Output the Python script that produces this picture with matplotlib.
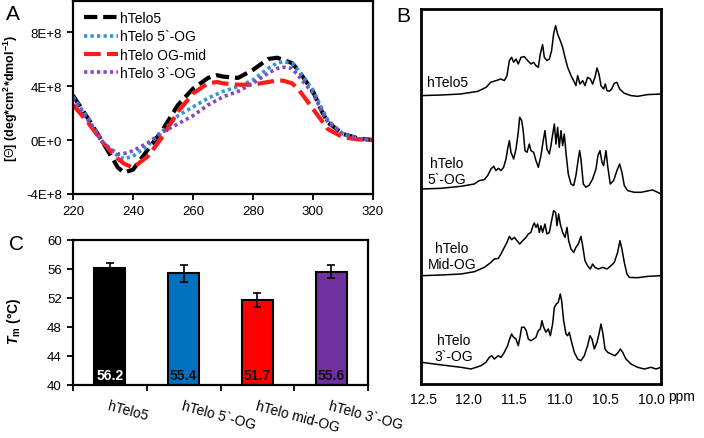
import numpy as np
import matplotlib
matplotlib.use("Agg")
import matplotlib.pyplot as plt
import matplotlib.transforms as mtransforms
from matplotlib import rcParams

rcParams.update({'font.family': 'Liberation Sans', 'font.size': 9.5,
                 'mathtext.fontset': 'custom',
                 'mathtext.rm': 'Liberation Sans',
                 'mathtext.it': 'Liberation Sans:italic',
                 'mathtext.bf': 'Liberation Sans:bold',
                 'axes.linewidth': 1.6})
try:
    rcParams['mathtext.bfit'] = 'Liberation Sans:bold:italic'
except KeyError:
    pass

# ---- A: CD spectra (wavelength nm, ellipticity in 1e8 units) ----
wl = [220, 225, 230, 235, 237, 240, 245, 250, 255, 260, 265, 268, 270, 275, 280,
      285, 288, 290, 293, 295, 300, 303, 305, 310, 315, 320]
cd_htelo5 = [3.3, 1.6, -0.2, -2.05, -2.4, -2.2, -0.7, 0.8, 2.6, 3.8, 4.6, 4.8, 4.7, 4.6, 5.2,
             6.0, 6.1, 5.95, 5.7, 5.2, 3.6, 2.1, 1.3, 0.45, 0.12, 0.0]
cd_5og = [3.2, 1.6, -0.2, -1.2, -1.4, -1.2, -0.4, 0.7, 1.8, 2.45, 3.1, 3.4, 3.6, 3.95, 4.45,
          5.3, 5.7, 5.8, 5.7, 5.2, 3.7, 2.3, 1.45, 0.45, 0.1, 0.0]
cd_mid = [2.6, 1.3, -0.2, -1.4, -1.75, -2.05, -1.2, 0.3, 2.1, 3.45, 4.2, 4.3, 4.2, 4.1, 4.1,
          4.3, 4.4, 4.4, 4.2, 3.8, 2.3, 1.4, 0.8, 0.2, 0.05, 0.0]
cd_3og = [3.1, 1.45, -0.2, -1.05, -1.0, -0.8, -0.2, 0.6, 1.2, 1.8, 2.6, 2.95, 3.2, 3.6, 4.2,
          4.95, 5.3, 5.4, 5.3, 4.8, 3.45, 2.1, 1.3, 0.45, 0.1, 0.0]
cd_labels = ['hTelo5', 'hTelo 5`-OG', 'hTelo OG-mid', 'hTelo 3`-OG']

# ---- C: melting temperatures ----
tm_names = ['hTelo5', 'hTelo 5`-OG', 'hTelo mid-OG', 'hTelo 3`-OG']
tm_vals = [56.2, 55.4, 51.7, 55.6]
tm_err = [0.6, 1.2, 0.95, 0.9]
tm_colors = ['#000000', '#0070C0', '#FF0000', '#7030A0']
tm_textcol = ['white', '#111111', '#111111', '#111111']

# ---- B: imino proton NMR spectra (ppm, intensity) ----
nmr1_ppm = [12.52, 12.30, 12.09, 11.90, 11.81, 11.76, 11.70, 11.65, 11.61, 11.581, 11.555, 11.53,
            11.508, 11.482, 11.457, 11.427, 11.391, 11.354, 11.318, 11.288, 11.263, 11.237, 11.215,
            11.19, 11.171, 11.142, 11.116, 11.091, 11.069, 11.047, 11.025, 10.996, 10.97, 10.944,
            10.915, 10.878, 10.849, 10.824, 10.805, 10.78, 10.75, 10.725, 10.696, 10.666, 10.641,
            10.615, 10.593, 10.571, 10.549, 10.52, 10.502, 10.483, 10.458, 10.432, 10.403, 10.374,
            10.344, 10.293, 10.22, 10.147, 10.037, 9.89]
nmr1_int = [0.7, 1.3, 2.3, 5.0, 9.0, 14.0, 15.7, 17.3, 15.7, 20.7, 35.7, 39, 34, 37.3, 32.3, 39,
            39.7, 35.7, 32.3, 34, 30.7, 29, 42.3, 51.7, 39, 35.7, 37.3, 45.7, 62.3, 70.7, 62.3,
            55.7, 49, 39, 29, 20.7, 15.7, 10.7, 20.7, 12.3, 15.7, 10.7, 19, 17.3, 12.3, 19, 28.3,
            22.3, 10.7, 7.3, 12.3, 5.7, 5.0, 7.3, 13, 14, 7.3, 3.0, 0.7, 0.0, 1.7, 2.3]

nmr2_ppm = [12.52, 12.305, 12.086, 11.94, 11.885, 11.83, 11.793, 11.757, 11.727, 11.702, 11.676,
            11.647, 11.618, 11.592, 11.574, 11.555, 11.537, 11.508, 11.482, 11.457, 11.442, 11.42,
            11.405, 11.383, 11.361, 11.336, 11.318, 11.288, 11.263, 11.237, 11.208, 11.186, 11.164,
            11.142, 11.116, 11.098, 11.076, 11.061, 11.043, 11.025, 11.007, 10.988, 10.97, 10.952,
            10.93, 10.908, 10.878, 10.849, 10.824, 10.798, 10.783, 10.769, 10.743, 10.714, 10.677,
            10.641, 10.604, 10.582, 10.56, 10.538, 10.52, 10.494, 10.476, 10.447, 10.41, 10.374,
            10.344, 10.319, 10.293, 10.256, 10.183, 10.11, 10.019, 9.982, 9.927, 9.89]
nmr2_int = [3.3, 4, 6, 8.3, 11.7, 12.7, 16.7, 23.3, 26, 21.7, 24, 21.7, 25, 33.3, 43.3, 51.7, 40,
            33.3, 43.3, 60, 75, 71.7, 63.3, 41.7, 40, 48.3, 41.7, 40, 31.7, 25, 36.7, 50, 61.7,
            43.3, 38.3, 46.7, 60, 68.3, 48.3, 65, 45, 61.7, 46.7, 58.3, 36.7, 18.3, 8.3, 6.7, 16.7,
            33.3, 41.7, 33.3, 8.3, 5, 7.3, 13.3, 23.3, 36.7, 41.7, 30, 26.7, 41.7, 26.7, 8.3, 11.7,
            21.7, 28.3, 20, 6.7, 1.7, 0, 0, 1.7, 2.3, 0, -1.7]

nmr3_ppm = [12.52, 12.305, 12.086, 11.94, 11.83, 11.757, 11.72, 11.676, 11.647, 11.61, 11.581,
            11.555, 11.53, 11.5, 11.471, 11.442, 11.409, 11.372, 11.347, 11.318, 11.296, 11.281,
            11.263, 11.244, 11.226, 11.208, 11.19, 11.164, 11.142, 11.116, 11.091, 11.069, 11.047,
            11.032, 11.014, 10.996, 10.97, 10.944, 10.922, 10.904, 10.878, 10.849, 10.824, 10.798,
            10.769, 10.75, 10.725, 10.696, 10.666, 10.641, 10.615, 10.578, 10.531, 10.483, 10.439,
            10.403, 10.366, 10.341, 10.319, 10.293, 10.264, 10.238, 10.147, 10.037, 9.89]
nmr3_int = [2, 2.7, 3.7, 6, 10.3, 15.3, 18.7, 19.3, 23.7, 30.3, 35.3, 41.3, 38, 40.3, 37, 33.7, 37,
            40.3, 43.7, 45.3, 52, 54.7, 50.3, 53.7, 45.3, 52, 45.3, 53.7, 43.7, 45.3, 57, 67, 65.3,
            52, 63.7, 53.7, 45.3, 40.3, 50.3, 37, 28.7, 25.3, 30.3, 33.7, 41.3, 32, 17, 12, 8.7,
            13.7, 10.3, 8.7, 10.3, 8.7, 12, 15.3, 25.3, 37, 28.7, 15.3, 3.7, 0.3, 0, 1.3, 2]

nmr4_ppm = [12.52, 12.379, 12.232, 12.086, 11.976, 11.866, 11.812, 11.775, 11.749, 11.72, 11.676,
            11.647, 11.61, 11.574, 11.552, 11.53, 11.508, 11.482, 11.457, 11.435, 11.42, 11.391,
            11.369, 11.347, 11.318, 11.288, 11.263, 11.237, 11.215, 11.197, 11.178, 11.153, 11.127,
            11.105, 11.08, 11.061, 11.039, 11.018, 10.996, 10.981, 10.959, 10.933, 10.915, 10.897,
            10.871, 10.842, 10.805, 10.769, 10.732, 10.696, 10.67, 10.648, 10.622, 10.593, 10.571,
            10.549, 10.527, 10.505, 10.476, 10.439, 10.395, 10.359, 10.337, 10.311, 10.275, 10.22,
            10.147, 10.073, 10.0, 9.945, 9.89]
nmr4_int = [6.7, 5, 3.3, 1.7, 0, 3.3, 6.7, 11.7, 13.3, 10, 13.3, 11.7, 16.7, 23.3, 30, 35, 31.7,
            30, 23.3, 33.3, 41.7, 41.7, 38.3, 30, 28.3, 30, 31.7, 38.3, 40, 48.3, 41.7, 36.7, 40,
            33.3, 45, 61.7, 65, 66.7, 75, 68.3, 48.3, 35, 33.3, 36.7, 26.7, 16.7, 10, 8.3, 13.3,
            23.3, 33.3, 30, 20, 26.7, 35, 45, 35, 20, 16.7, 15, 13.3, 16.7, 20, 16.7, 10, 5, 1.7,
            0, 1.7, 0, 1.7]

nmr_traces = [(nmr1_ppm, nmr1_int, 287.7), (nmr2_ppm, nmr2_int, 191.7),
              (nmr3_ppm, nmr3_int, 106.3), (nmr4_ppm, nmr4_int, 15.0)]
nmr_labels = ['hTelo5', 'hTelo\n5`-OG', 'hTelo\nMid-OG', 'hTelo\n3`-OG']
nmr_label_pos = [(448, 83), (447, 172), (452, 257), (454, 349)]

W, H = 704, 439
fig = plt.figure(figsize=(W / 100, H / 100), dpi=100)

def box(l, t, r, b):
    return [l / W, 1 - b / H, (r - l) / W, (b - t) / H]

# ---------------- A ----------------
axA = fig.add_axes(box(73, 2, 373, 195))
e8 = 1e8
axA.plot(wl, np.array(cd_htelo5) * e8, color='black', lw=3, dashes=(3.2, 1.4), label=cd_labels[0])
axA.plot(wl, np.array(cd_5og) * e8, color='#2F95D8', lw=2.6, dashes=(0.9, 0.9), label=cd_labels[1])
axA.plot(wl, np.array(cd_mid) * e8, color='#FF1A1A', lw=3, dashes=(4, 1.5), label=cd_labels[2])
axA.plot(wl, np.array(cd_3og) * e8, color='#7F4CC0', lw=2.6, dashes=(0.9, 0.9), label=cd_labels[3])
axA.set_xlim(220, 320)
axA.set_ylim(-4e8, 1.03e9)
axA.set_xticks(range(220, 321, 20))
axA.set_yticks([-4e8, 0, 4e8, 8e8])
axA.set_yticklabels(['-4E+8', '0E+0', '4E+8', '8E+8'])
axA.tick_params(direction='out', length=4, width=1.3, pad=4, labelsize=9.5)
axA.legend(loc='upper left', bbox_to_anchor=(0.01, 0.99), frameon=False, handlelength=2.4,
           handletextpad=0.15, labelspacing=0.3, borderaxespad=0.2, fontsize=10)
axA.set_ylabel(r'[$\Theta$] (deg*cm$^{\mathbf{2}}$*dmol$^{\mathbf{-1}}$)', fontweight='bold', fontsize=9)
axA.yaxis.set_label_coords(-53 / 300, 0.5)
fig.text(13 / W, 1 - 15 / H, 'A', fontsize=15, ha='center', va='center')

# ---------------- C ----------------
axC = fig.add_axes(box(73, 241, 368, 386))
xc = np.arange(len(tm_vals))
axC.bar(xc, np.array(tm_vals) - 40, bottom=40, width=0.42, color=tm_colors, edgecolor='black',
        linewidth=1.5, yerr=tm_err, capsize=3, error_kw=dict(elinewidth=1.2, capthick=1.2), zorder=2)
for i, v in enumerate(tm_vals):
    axC.text(xc[i], 40.35, f'{v:.1f}', ha='center', va='bottom', color=tm_textcol[i],
             fontweight='bold', fontsize=10, zorder=3)
axC.set_xlim(-0.5, 3.5)
axC.set_ylim(40, 60)
axC.set_yticks(range(40, 61, 4))
axC.set_xticks([-0.5, 0.5, 1.5, 2.5, 3.5])
axC.set_xticklabels([])
axC.tick_params(direction='out', length=4, width=1.3, pad=4, labelsize=9.5)
trC = mtransforms.blended_transform_factory(axC.transData, axC.transAxes)
for i, name in enumerate(tm_names):
    axC.text(xc[i], -0.09, name, transform=trC, rotation=-15, rotation_mode='anchor',
             ha='left', va='top', fontsize=10, clip_on=False)
axC.set_ylabel(r'$\mathbfit{T}_{\mathbf{m}}$ (°C)', fontweight='bold', fontsize=10)
axC.yaxis.set_label_coords(-50 / 295, 0.45)
fig.text(16 / W, 1 - 245 / H, 'C', fontsize=15, ha='center', va='center')

# ---------------- B ----------------
axB = fig.add_axes(box(421, 10, 661, 385))
for ppm, inten, off in nmr_traces:
    axB.plot(ppm, np.array(inten) + off, color='black', lw=1.1)
axB.set_xlim(12.525, 9.89)
axB.set_ylim(0, 375)
axB.set_xticks([12.5, 12.0, 11.5, 11.0, 10.5, 10.0])
axB.set_xticklabels(['12.5', '12.0', '11.5', '11.0', '10.5', '10.0'])
axB.set_yticks([])
axB.tick_params(axis='x', length=0, pad=6, labelsize=10)
for sp in axB.spines.values():
    sp.set_linewidth(2)
for lab, (px, py) in zip(nmr_labels, nmr_label_pos):
    fig.text(px / W, 1 - py / H, lab, ha='center', va='center', fontsize=10, linespacing=1.15)
fig.text(668 / W, 1 - 397 / H, 'ppm', ha='left', va='center', fontsize=10)
fig.text(403 / W, 1 - 16 / H, 'B', fontsize=15, ha='center', va='center')

fig.savefig('out.png', dpi=100)
